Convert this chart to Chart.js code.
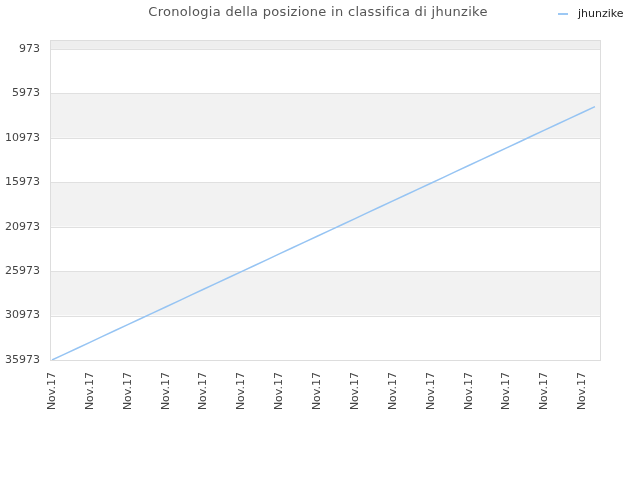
<!DOCTYPE html>
<html>
<head>
<meta charset="utf-8">
<script src="https://cdn.jsdelivr.net/npm/chart.js@4"></script>
<style>
html,body{margin:0;padding:0;background:#fff;}
#wrap{position:relative;width:640px;height:480px;}
#title{position:absolute;left:0;top:4px;width:636px;text-align:center;font-family:"DejaVu Sans";font-size:13px;color:#555;letter-spacing:0.3px;}
#legend{position:absolute;left:558px;top:7px;font-family:"DejaVu Sans";font-size:11px;color:#222;white-space:nowrap;}
#legend span.sw{display:inline-block;width:10px;height:2px;background:#9cc8f4;vertical-align:middle;margin-right:10px;}
</style>
</head>
<body>
<div id="wrap">
<canvas id="c" width="640" height="480"></canvas>
<div id="title">Cronologia della posizione in classifica di jhunzike</div>
<div id="legend"><span class="sw"></span>jhunzike</div>
</div>
<script>
const seriesName = "jhunzike";
const categories = ["Nov.17","Nov.17","Nov.17","Nov.17","Nov.17","Nov.17","Nov.17","Nov.17","Nov.17","Nov.17","Nov.17",
"Nov.17","Nov.17","Nov.17","Nov.17","Nov.17","Nov.17","Nov.17","Nov.17","Nov.17","Nov.17","Nov.17",
"Nov.17","Nov.17","Nov.17","Nov.17","Nov.17","Nov.17","Nov.17","Nov.17","Nov.17","Nov.17","Nov.17",
"Nov.17","Nov.17","Nov.17","Nov.17","Nov.17","Nov.17","Nov.17","Nov.17","Nov.17","Nov.17","Nov.17"];
const ranks = [35973,35310,34647,33984,33321,32658,31995,31332,30669,30006,29343,
28680,28017,27354,26691,26028,25365,24702,24039,23376,22713,22050,
21387,20724,20061,19398,18735,18072,17409,16746,16083,15420,14757,
14094,13431,12768,12105,11442,10779,10116,9453,8790,8127,7464];
const yTickValues = [973,5973,10973,15973,20973,25973,30973,35973];
const yMin = -27, yMax = 35973;

const bandPlugin = {
  id:'bands',
  beforeDraw(chart){
    const {ctx, chartArea:a, scales:{y}} = chart;
    const L = a.left-2, R = a.right+5;
    ctx.save();
    const edges = [yMin].concat(yTickValues);
    for(let i=0;i<edges.length-1;i++){
      const y1 = y.getPixelForValue(edges[i]);
      const y2 = y.getPixelForValue(edges[i+1]);
      const gray = (i===0)?'#eeeeee':(i%2===0?'#f2f2f2':'#ffffff');
      ctx.fillStyle = gray;
      ctx.fillRect(L, y1, R-L, y2-y1);
    }
    ctx.strokeStyle = '#e0e0e0';
    ctx.lineWidth = 1;
    yTickValues.forEach(v=>{
      const py = Math.round(y.getPixelForValue(v))+0.5;
      ctx.beginPath(); ctx.moveTo(L,py); ctx.lineTo(R,py); ctx.stroke();
    });
    ctx.strokeStyle = '#dddddd';
    ctx.strokeRect(Math.round(L)+0.5, Math.round(a.top)+0.5, Math.round(R-L), Math.round(a.bottom-a.top));
    ctx.restore();
  }
};

new Chart(document.getElementById('c'), {
  type:'line',
  data:{labels:categories, datasets:[{label:seriesName, data:ranks, borderColor:'#96c4f3', borderWidth:1.5, pointRadius:0, fill:false, tension:0}]},
  options:{
    responsive:false, animation:false,
    layout:{padding:{top:40,right:45,left:0,bottom:0}},
    plugins:{legend:{display:false}, title:{display:false}, tooltip:{enabled:false}},
    scales:{
      x:{
        grid:{display:false, drawTicks:false},
        border:{display:false},
        ticks:{autoSkip:false, minRotation:90, maxRotation:90, padding:12,
          font:{family:'DejaVu Sans', size:11}, color:'#444',
          callback:function(v,i){ return i%3===0 ? categories[i] : ''; }},
        afterFit:function(s){ s.height = 120; }
      },
      y:{
        reverse:true, min:yMin, max:yMax,
        grid:{display:false, drawTicks:false},
        border:{display:false},
        ticks:{padding:12, font:{family:'DejaVu Sans', size:11}, color:'#444',
          callback:function(v){ return String(v); }},
        afterBuildTicks:function(s){ s.ticks = yTickValues.map(v=>({value:v})); },
        afterFit:function(s){ s.width = 52; }
      }
    }
  },
  plugins:[bandPlugin]
});
</script>
</body>
</html>
